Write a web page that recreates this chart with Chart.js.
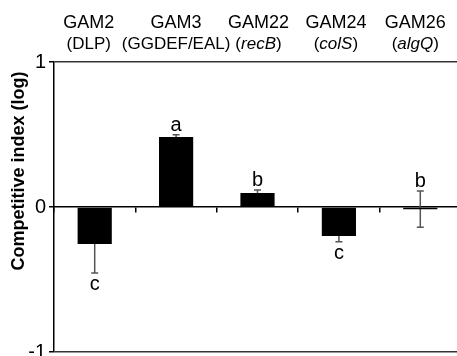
<!DOCTYPE html>
<html>
<head>
<meta charset="utf-8">
<script src="https://cdn.jsdelivr.net/npm/chart.js@4/dist/chart.umd.min.js"></script>
<style>
  html, body { margin: 0; padding: 0; background: #fff; overflow: hidden; width: 457px; height: 356px; }
  #wrap { position: relative; width: 461px; height: 370px; }
</style>
</head>
<body>
<div id="wrap"><canvas id="c"></canvas></div>
<script>
// Strains and the gene each mutant disrupts
const categories = ['GAM2', 'GAM3', 'GAM22', 'GAM24', 'GAM26'];
const genes = ['DLP', 'GGDEF/EAL', 'recB', 'colS', 'algQ'];
const geneItalic = [false, false, true, true, true];
// Mean competitive index (log) and its standard error
const means = [-0.255, 0.483, 0.097, -0.2, -0.015];
const sem = [0.2, 0.015, 0.02, 0.04, 0.125];
// Statistical grouping letters
const groups = ['c', 'a', 'b', 'c', 'b'];
const yTicks = [-1, 0, 1];

const FONT = '"Liberation Sans", Arial, Helvetica, sans-serif';
// small horizontal nudges for the header text of each column
const headerNudge = [-6, 0, 1, -3, -5];

const annotate = {
  id: 'annotate',
  beforeDatasetsDraw(chart) {
    // error bars go underneath the bars so the inner half is hidden
    const ctx = chart.ctx, xs = chart.scales.x, ys = chart.scales.y;
    ctx.save();
    ctx.strokeStyle = '#555';
    ctx.lineWidth = 1.5;
    means.forEach((m, i) => {
      const x = xs.getPixelForValue(i);
      const yHi = ys.getPixelForValue(m + sem[i]);
      const yLo = ys.getPixelForValue(m - sem[i]);
      ctx.beginPath();
      ctx.moveTo(x, yHi); ctx.lineTo(x, yLo);
      ctx.moveTo(x - 3.5, yHi); ctx.lineTo(x + 3.5, yHi);
      ctx.moveTo(x - 3.5, yLo); ctx.lineTo(x + 3.5, yLo);
      ctx.stroke();
    });
    ctx.restore();
  },
  afterDraw(chart) {
    const ctx = chart.ctx, xs = chart.scales.x, ys = chart.scales.y;
    ctx.save();
    ctx.fillStyle = '#000';
    ctx.textAlign = 'center';
    ctx.textBaseline = 'alphabetic';

    // grouping letters beyond the error bar
    ctx.font = '20px ' + FONT;
    means.forEach((m, i) => {
      const x = xs.getPixelForValue(i);
      if (m >= -0.05) {
        ctx.fillText(groups[i], x, ys.getPixelForValue(m + sem[i]) - 4);
      } else {
        ctx.fillText(groups[i], x, ys.getPixelForValue(m - sem[i]) + 17);
      }
    });

    // strain names and genes across the top
    categories.forEach((name, i) => {
      const x = xs.getPixelForValue(i) + headerNudge[i];
      ctx.textAlign = 'center';
      ctx.font = '18px ' + FONT;
      ctx.fillText(name, x, 28);

      const plain = '17px ' + FONT, ital = 'italic 17px ' + FONT;
      ctx.font = plain;
      const wp = ctx.measureText('(').width, wq = ctx.measureText(')').width;
      ctx.font = geneItalic[i] ? ital : plain;
      const wg = ctx.measureText(genes[i]).width;
      let cx = x - (wp + wg + wq) / 2;
      ctx.textAlign = 'left';
      ctx.font = plain; ctx.fillText('(', cx, 49); cx += wp;
      ctx.font = geneItalic[i] ? ital : plain; ctx.fillText(genes[i], cx, 49); cx += wg;
      ctx.font = plain; ctx.fillText(')', cx, 49);
    });

    // y axis title
    ctx.translate(19, 171);
    ctx.rotate(-Math.PI / 2);
    ctx.textAlign = 'center';
    ctx.textBaseline = 'middle';
    ctx.font = 'bold 18px ' + FONT;
    ctx.fillText('Competitive index (log)', 0, 0);
    ctx.restore();
  }
};

new Chart(document.getElementById('c'), {
  type: 'bar',
  data: {
    labels: categories,
    datasets: [{
      data: means,
      backgroundColor: '#000',
      borderWidth: 0,
      barPercentage: 0.42,
      categoryPercentage: 1.0
    }]
  },
  options: {
    responsive: true,
    maintainAspectRatio: false,
    animation: false,
    events: [],
    layout: { padding: { top: 62, left: 0, right: 0, bottom: 18 } },
    plugins: { legend: { display: false }, tooltip: { enabled: false }, title: { display: false } },
    scales: {
      x: {
        type: 'category',
        position: { y: 0 },
        grid: { offset: true, drawOnChartArea: false, drawTicks: true, tickLength: 5, color: '#000', lineWidth: 1.5 },
        border: { display: true, color: '#000', width: 1.5 },
        ticks: { display: false }
      },
      y: {
        min: -1,
        max: 1,
        afterFit(scale) { scale.width = 54; },
        afterBuildTicks(scale) { scale.ticks = yTicks.map(v => ({ value: v })); },
        ticks: {
          font: { family: FONT, size: 20 },
          color: '#000',
          padding: 3,
          callback: v => String(v)
        },
        grid: {
          drawOnChartArea: true,
          drawTicks: true,
          tickLength: 5,
          tickColor: '#000',
          lineWidth: 1.5,
          color: c => (c.tick && c.tick.value === 0 ? 'rgba(0,0,0,0)' : '#333')
        },
        border: { display: true, color: '#000', width: 1.5 }
      }
    }
  },
  plugins: [annotate]
});
</script>
</body>
</html>
